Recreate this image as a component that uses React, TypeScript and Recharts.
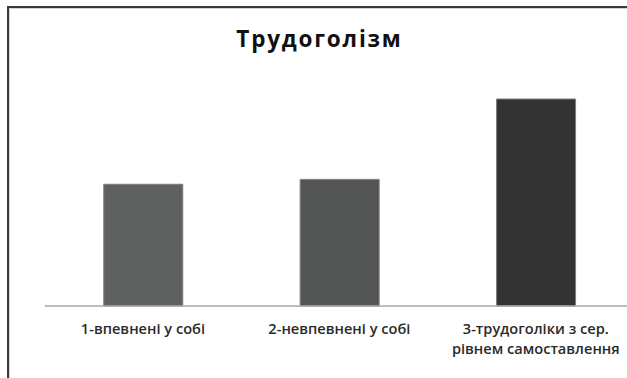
import React from 'react';
import { BarChart, Bar, XAxis, YAxis, Cell } from 'recharts';

// Groups shown along the category axis (line breaks split long names)
const categories = ['1-впевнені у собі', '2-невпевнені у собі', '3-трудоголіки з сер.\nрівнем самоставлення'];
// Bar heights for each group
const values = [30, 31.2, 51];
// Fill for each bar
const barColors = ['#5f6060', '#545655', '#333333'];
const chartTitle = 'Трудоголізм';

const data = categories.map((name, i) => ({ name, value: values[i] }));

const FONT = '"Open Sans", "Noto Sans", sans-serif';

const CategoryTick = (props: any) => {
  const { x, y, payload } = props;
  const lines = String(payload.value).split('\n');
  return (
    <text
      x={x}
      y={y}
      textAnchor="middle"
      fill="#2a2a2a"
      fontFamily={FONT}
      fontWeight={600}
      fontSize={14.6}
    >
      {lines.map((line, i) => (
        <tspan key={i} x={x} dy={i === 0 ? 20 : 20}>
          {line}
        </tspan>
      ))}
    </text>
  );
};

export default function App() {
  return (
    <div
      style={{
        position: 'fixed',
        left: 0,
        top: 0,
        width: 627,
        height: 378,
        overflow: 'hidden',
        background: '#ffffff',
      }}
    >
      <div
        style={{
          position: 'absolute',
          left: 7,
          top: 6,
          width: 700,
          height: 500,
          border: '2px solid #3a3a3a',
          boxShadow: 'inset 1px 1px 0 #d4d4d4',
        }}
      />
      <div style={{ position: 'absolute', left: 0, top: 0 }}>
        <BarChart
          width={650}
          height={378}
          data={data}
          margin={{ top: 62.5, right: 16, left: 44.75, bottom: 0 }}
        >
          <XAxis
            dataKey="name"
            height={72}
            axisLine={{ stroke: '#a8a8a8', strokeWidth: 1.5 }}
            tickLine={false}
            tick={<CategoryTick />}
            interval={0}
          />
          <YAxis hide domain={[0, 60]} />
          <Bar dataKey="value" barSize={79} isAnimationActive={false} stroke="#7c7c7c" strokeWidth={1}>
            {data.map((d, i) => (
              <Cell key={d.name} fill={barColors[i]} />
            ))}
          </Bar>
        </BarChart>
      </div>
      <svg
        width={627}
        height={378}
        style={{ position: 'absolute', left: 0, top: 0, pointerEvents: 'none' }}
      >
        <text
          x={319.5}
          y={47}
          textAnchor="middle"
          fill="#111111"
          fontFamily={FONT}
          fontWeight={700}
          fontSize={22.5}
          letterSpacing={1.8}
        >
          {chartTitle}
        </text>
      </svg>
    </div>
  );
}
